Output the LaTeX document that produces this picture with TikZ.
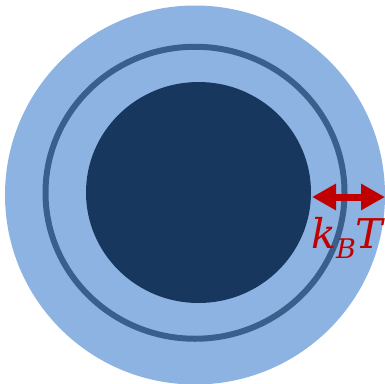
\documentclass[tikz,border=0pt]{standalone}
\usepackage{fontspec}
\usepackage{tikz}
\usetikzlibrary{arrows.meta,positioning}
\newfontfamily\labelfont{DejaVu Serif}
\definecolor{shellLight}{HTML}{8DB3E2}
\definecolor{shellRing}{HTML}{3A5F8C}
\definecolor{coreDark}{HTML}{17375E}
\definecolor{kbRed}{HTML}{C00000}

\begin{document}
\begin{tikzpicture}[
  x=1pt, y=-1pt,
  shell/.style={fill=shellLight, draw=none},
  ring/.style={draw=shellRing, line width=6pt},
  core/.style={fill=coreDark, draw=none},
  arr/.style={{Triangle[length=24pt,width=25pt]}-{Triangle[length=24pt,width=25pt]}, line width=7pt, color=kbRed}
]
  \useasboundingbox (0,0) rectangle (385,383);
  \fill[shell] (195,195) ellipse[x radius=190, y radius=189.5];
  \draw[ring] (195,192.75) ellipse[x radius=149.5, y radius=146];
  \fill[core] (198.5,192.5) ellipse[x radius=112.5, y radius=110.5];

  \coordinate (gapL) at (312,197);
  \coordinate (gapR) at (385,197);
  \draw[arr] (gapL) -- (gapR);
  \node[anchor=base west, inner sep=0pt, text=kbRed, font=\labelfont\itshape\fontsize{41}{44}\selectfont]
    (kbt) at (311,248) {k\raisebox{-10pt}{\fontsize{27}{30}\selectfont B}T};
\end{tikzpicture}
\end{document}
